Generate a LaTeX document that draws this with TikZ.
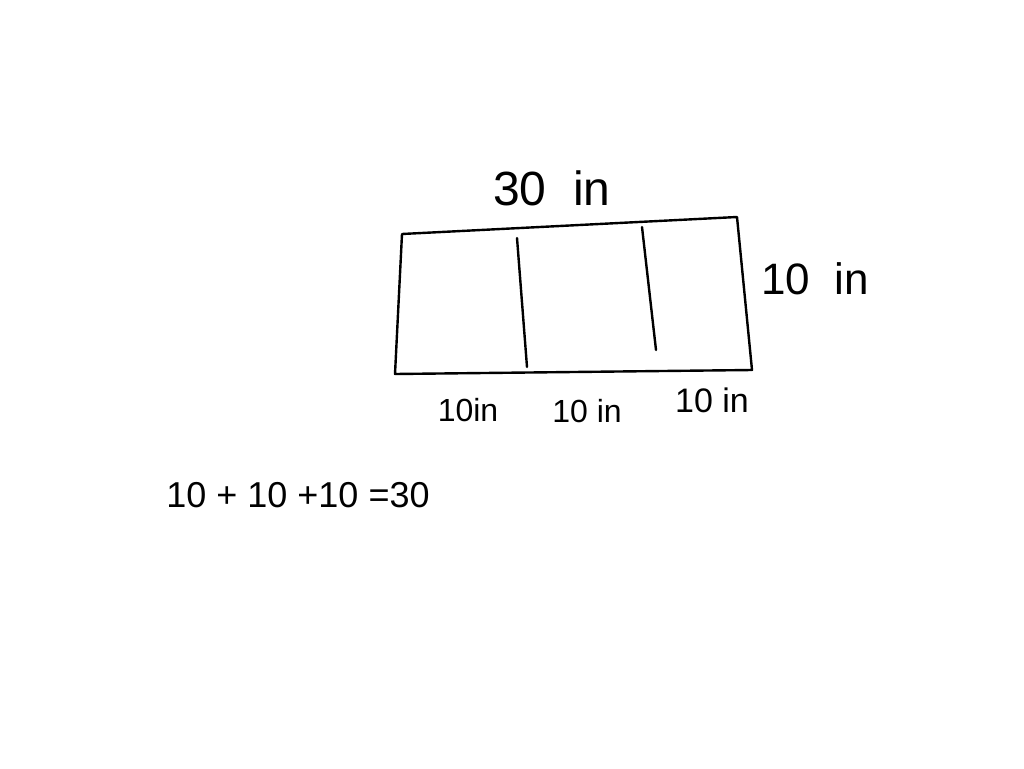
\documentclass[tikz,border=0pt]{standalone}
\usepackage{fontspec}
\setmainfont{Liberation Sans}
\begin{document}
\begin{tikzpicture}[x=1pt,y=-1pt,
  pen/.style={line width=2.4pt,line cap=round,line join=round,black},
  lbl/.style={inner sep=0pt}]
\useasboundingbox[fill=white] (0,0) rectangle (1024,768);
\coordinate (tl) at (402,234);
\coordinate (tr) at (737,217);
\coordinate (br) at (752,370);
\coordinate (bl) at (395,374);
\draw[pen] (tl) -- (tr) -- (br) -- (bl) -- cycle;
\coordinate (d1t) at (517,238);
\coordinate (d1b) at (527,367);
\coordinate (d2t) at (642,227);
\coordinate (d2b) at (656,350);
\draw[pen] (d1t) -- (d1b);
\draw[pen] (d2t) -- (d2b);
\node[lbl,font=\fontsize{48}{50}\selectfont] (top) at (552,188) {30\ \ in};
\node[lbl,font=\fontsize{44}{46}\selectfont] (right) at (815,279) {10\ \ in};
\node[lbl,font=\fontsize{32}{34}\selectfont] (b1) at (468,410) {10in};
\node[lbl,font=\fontsize{32}{34}\selectfont] (b2) at (587,411) {10 in};
\node[lbl,font=\fontsize{34}{36}\selectfont] (b3) at (712,400) {10 in};
\node[lbl,font=\fontsize{36}{38}\selectfont] (eq) at (298,495) {10 + 10 +10 =30};
\end{tikzpicture}
\end{document}
